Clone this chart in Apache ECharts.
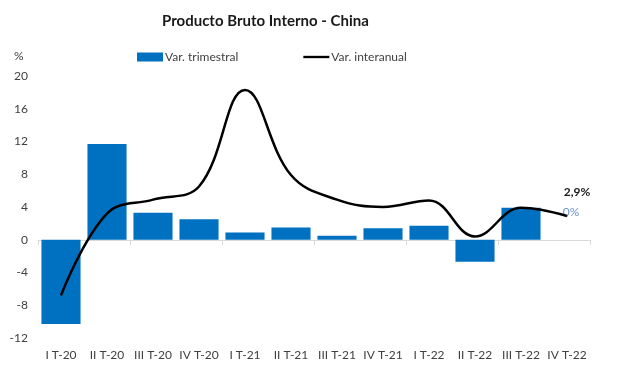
<!DOCTYPE html>
<html><head><meta charset="utf-8">
<script src="https://cdn.jsdelivr.net/npm/echarts@6/dist/echarts.min.js"></script>
<style>html,body{margin:0;padding:0;background:#fff}#c{width:617px;height:388px}</style>
</head><body><div id="c"></div>
<script>
const categories = ["I T-20","II T-20","III T-20","IV T-20","I T-21","II T-21","III T-21","IV T-21","I T-22","II T-22","III T-22","IV T-22"];
const varTrimestral = [-10.3, 11.7, 3.3, 2.5, 0.9, 1.5, 0.5, 1.4, 1.7, -2.7, 3.9, 0];
const varInteranual = [-6.8, 3.2, 4.9, 6.5, 18.3, 7.9, 4.9, 4.0, 4.8, 0.4, 3.9, 2.9];
const yTicks = [-12, -8, -4, 0, 4, 8, 12, 16, 20];
const FONT = "Lato";
const chart = echarts.init(document.getElementById('c'), null, {renderer:'canvas'});
chart.setOption({
  animation:false,
  backgroundColor:'#fff',
  textStyle:{fontFamily:FONT},
  title:{text:'Producto Bruto Interno - China', left:157, top:9,
    textStyle:{fontFamily:FONT, fontSize:15, fontWeight:'bold', color:'#1a1a1a'}},
  legend:{top:51, left:137, padding:0, itemGap:65, itemWidth:26, itemHeight:9,
    textStyle:{fontFamily:FONT, fontSize:12, color:'#404040', padding:[0,0,0,-3]},
    data:[{name:'Var. trimestral', icon:'rect'},{name:'Var. interanual', icon:'path://M0,4L22,4L22,6L0,6Z'}]},
  graphic:[{type:'text', left:14, top:50, style:{text:'%', fontFamily:FONT, fontSize:12, fill:'#404040'}}],
  grid:{left:38, right:27, top:76, bottom:50, containLabel:false, outerBoundsMode:'none'},
  xAxis:[
    {type:'category', data:categories,
      axisLine:{onZero:true, lineStyle:{color:'#d9d9d9', width:1}},
      axisTick:{show:true, length:5, lineStyle:{color:'#d9d9d9'}},
      axisLabel:{show:false}},
    {type:'category', data:categories, position:'bottom',
      axisLine:{show:false, onZero:false}, axisTick:{show:false},
      axisLabel:{fontFamily:FONT, fontSize:12, color:'#404040', interval:0, margin:11}}
  ],
  yAxis:{type:'value', min:yTicks[0], max:yTicks[yTicks.length-1], interval:4,
    axisLine:{show:false}, axisTick:{show:false}, splitLine:{show:false},
    axisLabel:{fontFamily:FONT, fontSize:12, color:'#404040', margin:10}},
  series:[
    {name:'Var. trimestral', type:'bar', xAxisIndex:0, data:varTrimestral.map((v,i)=> i===varTrimestral.length-1 ?
        {value:v, label:{show:true, position:'top', distance:22, offset:[4,0], formatter:'0%', color:'#6a93cf', fontSize:12, fontFamily:FONT}} : v),
      barCategoryGap:'15%', itemStyle:{color:'#0070C0'}},
    {name:'Var. interanual', type:'line', xAxisIndex:0, data:varInteranual.map((v,i)=> i===varInteranual.length-1 ?
        {value:v, symbol:'circle', symbolSize:1, label:{show:true, position:'top', distance:17, offset:[10,0], formatter:'2,9%', color:'#1a1a1a', fontWeight:'bold', fontSize:12, fontFamily:FONT}} : {value:v, symbol:'none'}),
      smooth:0.4, showSymbol:true, z:3, lineStyle:{color:'#000', width:2.5}, itemStyle:{color:'#000'}}
  ]
});
</script></body></html>
